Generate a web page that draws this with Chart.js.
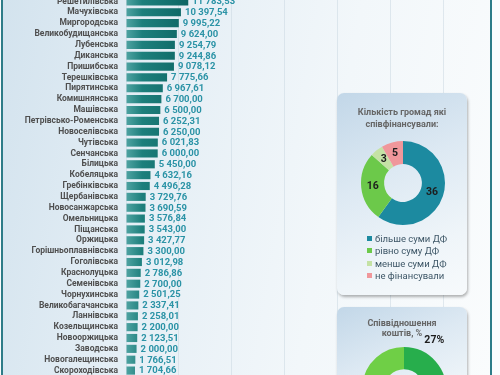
<!DOCTYPE html>
<html>
<head>
<meta charset="utf-8">
<script src="https://cdn.jsdelivr.net/npm/chart.js@4.4.1/dist/chart.umd.min.js"></script>
<style>
  html, body { margin: 0; padding: 0; }
  body { width: 500px; height: 375px; overflow: hidden; position: relative; background: #fbfcfd; font-family: Roboto, "Open Sans", sans-serif; }
  #slide { position: absolute; left: 1px; top: -2px; width: 491px; height: 380px; box-sizing: border-box;
           border-left: 2px solid #2e7c88; border-right: 2px solid #2e7c88;
           background: linear-gradient(100deg, #d3e3ee 0%, #e4eef5 30%, #f2f7fa 65%, #fafcfd 100%); }
  #barChart { position: absolute; left: 0; top: -4px; }
  .panel { position: absolute; left: 337px; width: 130px; border-radius: 7px;
           background: linear-gradient(155deg, #c2d7e8 0%, #dde9f3 40%, #eff5f9 75%, #f7fafc 100%);
           box-shadow: 1px 2px 3px rgba(0,0,0,0.3); }
  .ptitle { position: absolute; left: 0; width: 130px; text-align: center; font-weight: bold; font-size: 9px; color: #666; line-height: 12px; }
  .panel canvas { position: absolute; }
  .legend { position: absolute; left: 30px; top: 140px; font-size: 9.5px; color: #3d5666; line-height: 12.4px; }
  .legend span { display: inline-block; width: 5px; height: 5px; margin-right: 3px; vertical-align: 1px; }
</style>
</head>
<body>
<div id="slide"></div>
<canvas id="barChart" width="500" height="380"></canvas>

<div class="panel" style="top:93px;height:202px;">
  <div class="ptitle" style="top:13px;">Кількість громад які<br>співфінансували:</div>
  <canvas id="coFinChart" width="100" height="100" style="left:16px;top:40px;"></canvas>
  <div class="legend" id="coFinLegend"></div>
</div>

<div class="panel" style="top:307px;height:120px;">
  <div class="ptitle" style="top:11px;line-height:10px;">Співвідношення<br>коштів, %</div>
  <canvas id="shareChart" width="130" height="130" style="left:2px;top:17px;"></canvas>
</div>

<script>
// громади та суми співфінансування
const communities = [
  'Решетилівська', 'Мачухівська', 'Миргородська', 'Великобудищанська', 'Лубенська',
  'Диканська', 'Пришибська', 'Терешківська', 'Пирятинська', 'Комишнянська',
  'Машівська', 'Петрівсько-Роменська', 'Новоселівська', 'Чутівська', 'Сенчанська',
  'Білицька', 'Кобеляцька', 'Гребінківська', 'Щербанівська', 'Новосанжарська',
  'Омельницька', 'Піщанська', 'Оржицька', 'Горішньоплавнівська', 'Гоголівська',
  'Краснолуцька', 'Семенівська', 'Чорнухинська', 'Великобагачанська', 'Ланнівська',
  'Козельщинська', 'Новооржицька', 'Заводська', 'Новогалещинська', 'Скороходівська'
];
const amounts = [
  11783.53, 10397.54, 9995.22, 9624.00, 9254.79,
  9244.86, 9078.12, 7775.66, 6967.61, 6700.00,
  6500.00, 6252.31, 6250.00, 6021.83, 6000.00,
  5450.00, 4632.16, 4496.28, 3729.76, 3690.59,
  3576.84, 3543.00, 3427.77, 3300.00, 3012.98,
  2786.86, 2700.00, 2501.25, 2337.41, 2258.01,
  2200.00, 2123.51, 2000.00, 1766.51, 1704.66
];
const xTicks = [0, 10000, 20000, 30000, 40000, 50000, 60000];

// кількість громад за рівнем співфінансування
const coFinLabels = ['більше суми ДФ', 'рівно суму ДФ', 'менше суми ДФ', 'не фінансували'];
const coFinCounts = [36, 16, 3, 5];

// співвідношення коштів
const shareLabels = ['співфінансування', 'ДФ'];
const sharePercent = [27, 73];

const coFinColors = ['#1c8aa0', '#6cc94a', '#c5e2a5', '#f0979b'];
const shareColors = ['#27ae4c', '#6fcf46'];

function fmt(v) {
  return v.toFixed(2).replace('.', ',').replace(/\B(?=(\d{3})+(?!\d))/g, '\u00a0');
}

// підписи значень біля стовпчиків
const barValueLabels = {
  id: 'barValueLabels',
  afterDatasetsDraw(chart) {
    const ctx = chart.ctx;
    const meta = chart.getDatasetMeta(0);
    ctx.save();
    ctx.font = 'bold 9.5px Roboto, sans-serif';
    ctx.fillStyle = '#2b93a6';
    ctx.textAlign = 'left';
    ctx.textBaseline = 'middle';
    meta.data.forEach((bar, i) => {
      ctx.fillText(fmt(chart.data.datasets[0].data[i]), bar.x + 4, bar.y + 0.5);
    });
    ctx.restore();
  }
};

new Chart(document.getElementById('barChart'), {
  type: 'bar',
  data: {
    labels: communities,
    datasets: [{
      data: amounts,
      backgroundColor: function (context) {
        const area = context.chart.chartArea;
        if (!area) return '#137171';
        const g = context.chart.ctx.createLinearGradient(area.left, 0, area.left + 65, 0);
        g.addColorStop(0, '#4fa3a2');
        g.addColorStop(0.25, '#1d7f7c');
        g.addColorStop(1, '#0c6462');
        return g;
      },
      borderWidth: 0,
      barPercentage: 0.75,
      categoryPercentage: 1
    }]
  },
  options: {
    indexAxis: 'y',
    responsive: false,
    animation: false,
    layout: { padding: { left: 0, right: 57, top: 0, bottom: 0 } },
    plugins: { legend: { display: false }, tooltip: { enabled: false } },
    scales: {
      x: {
        min: 0,
        max: 60000,
        afterBuildTicks: function (scale) { scale.ticks = xTicks.map(v => ({ value: v })); },
        ticks: { display: false },
        grid: { color: 'rgba(200,214,224,0.5)', drawTicks: false },
        border: { display: false }
      },
      y: {
        afterFit: function (scale) {
          scale.width = 126;
          scale.paddingTop = 0;
          scale.paddingBottom = 0;
        },
        ticks: { font: { family: 'Roboto', size: 8.5, weight: 'bold' }, color: '#4f4f4f', padding: 8, autoSkip: false },
        grid: { display: false, drawTicks: false },
        border: { display: false }
      }
    }
  },
  plugins: [barValueLabels]
});

// підписи на кільцевих діаграмах
const arcLabels = {
  id: 'arcLabels',
  afterDatasetsDraw(chart, args, opts) {
    const ctx = chart.ctx;
    const meta = chart.getDatasetMeta(0);
    const values = chart.data.datasets[0].data;
    ctx.save();
    ctx.font = 'bold 10.5px Roboto, sans-serif';
    ctx.fillStyle = '#1d1d1d';
    ctx.textAlign = 'center';
    ctx.textBaseline = 'middle';
    meta.data.forEach((arc, i) => {
      if (opts.only !== undefined && opts.only !== i) return;
      let x, y;
      if (opts.radius) {
        const a = arc.startAngle + (arc.endAngle - arc.startAngle) * opts.frac;
        x = arc.x + Math.cos(a) * opts.radius;
        y = arc.y + Math.sin(a) * opts.radius;
      } else {
        const p = arc.tooltipPosition();
        x = p.x; y = p.y;
      }
      ctx.fillText(values[i] + (opts.suffix || ''), x, y);
    });
    ctx.restore();
  }
};

new Chart(document.getElementById('coFinChart'), {
  type: 'doughnut',
  data: {
    labels: coFinLabels,
    datasets: [{ data: coFinCounts, backgroundColor: coFinColors, borderWidth: 0 }]
  },
  options: {
    responsive: false,
    animation: false,
    radius: 42,
    cutout: '45%',
    plugins: { legend: { display: false }, tooltip: { enabled: false }, arcLabels: {} }
  },
  plugins: [arcLabels]
});

document.getElementById('coFinLegend').innerHTML = coFinLabels
  .map((l, i) => '<div><span style="background:' + coFinColors[i] + '"></span>' + l + '</div>')
  .join('');

new Chart(document.getElementById('shareChart'), {
  type: 'doughnut',
  data: {
    labels: shareLabels,
    datasets: [{ data: sharePercent, backgroundColor: shareColors, borderWidth: 0 }]
  },
  options: {
    responsive: false,
    animation: false,
    radius: 42,
    cutout: '47%',
    plugins: {
      legend: { display: false },
      tooltip: { enabled: false },
      arcLabels: { only: 0, suffix: '%', radius: 57, frac: 0.33 }
    }
  },
  plugins: [arcLabels]
});
</script>
</body>
</html>
